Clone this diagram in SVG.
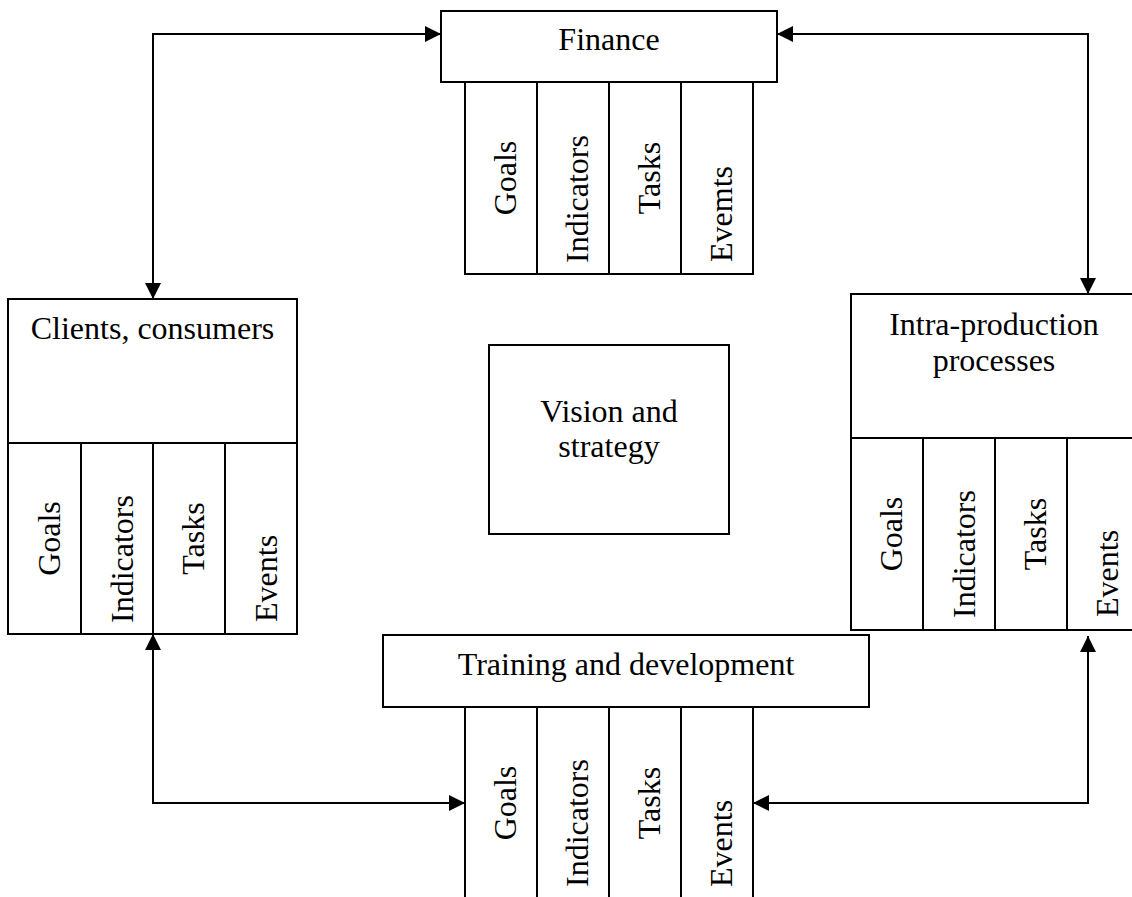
<svg xmlns="http://www.w3.org/2000/svg" width="1132" height="897" viewBox="0 0 1132 897">
<style>
.box{fill:#fff;stroke:#000;stroke-width:2}
.ln{fill:none;stroke:#000;stroke-width:2}
.t{font-family:"Liberation Serif","Times New Roman",serif;font-size:32px;fill:#000}
.m{text-anchor:middle}
.conn{fill:none;stroke:#000;stroke-width:2;marker-start:url(#ah);marker-end:url(#ah)}
</style>
<defs>
<marker id="ah" viewBox="0 0 16 16" refX="16" refY="8" markerWidth="16" markerHeight="16" markerUnits="userSpaceOnUse" orient="auto-start-reverse">
<path d="M0,0 L16,8 L0,16 z" fill="#000"/>
</marker>
</defs>
<rect width="1132" height="897" fill="#fff"/>

<g id="finance">
<rect class="box" x="441" y="11" width="336" height="71"/>
<text class="t m" x="609" y="50">Finance</text>
<rect class="box" x="465" y="82" width="288" height="192"/>
<path class="ln" d="M537,82V274M609,82V274M681,82V274"/>
<text class="t m" transform="translate(516,178) rotate(-90)">Goals</text>
<text class="t" transform="translate(588,263) rotate(-90)">Indicators</text>
<text class="t m" transform="translate(660,178) rotate(-90)">Tasks</text>
<text class="t" transform="translate(732,262) rotate(-90)">Evemts</text>
</g>

<g id="clients">
<rect class="box" x="8" y="299" width="289" height="335"/>
<text class="t m" x="152.5" y="339">Clients, consumers</text>
<path class="ln" d="M8,443H297M81,443V634M153,443V634M225,443V634"/>
<text class="t m" transform="translate(60,538.5) rotate(-90)">Goals</text>
<text class="t" transform="translate(133,623) rotate(-90)">Indicators</text>
<text class="t m" transform="translate(204,538.5) rotate(-90)">Tasks</text>
<text class="t" transform="translate(277,622) rotate(-90)">Events</text>
</g>

<g id="intra">
<rect class="box" x="851" y="294" width="290" height="336"/>
<text class="t m" x="994" y="335">Intra-production</text>
<text class="t m" x="994" y="371">processes</text>
<path class="ln" d="M851,438H1141M923,438V630M995,438V630M1067,438V630"/>
<text class="t m" transform="translate(902,534) rotate(-90)">Goals</text>
<text class="t" transform="translate(975,618) rotate(-90)">Indicators</text>
<text class="t m" transform="translate(1046,534) rotate(-90)">Tasks</text>
<text class="t" transform="translate(1118,617) rotate(-90)">Events</text>
</g>

<g id="vision">
<rect class="box" x="489" y="345" width="240" height="189"/>
<text class="t m" x="609" y="422">Vision and</text>
<text class="t m" x="609" y="457">strategy</text>
</g>

<g id="training">
<rect class="box" x="383" y="635" width="486" height="72"/>
<text class="t m" x="626" y="675">Training and development</text>
<path class="ln" d="M465,707V900M537,707V900M609,707V900M681,707V900M753,707V900"/>
<text class="t m" transform="translate(516,803) rotate(-90)">Goals</text>
<text class="t" transform="translate(588,887) rotate(-90)">Indicators</text>
<text class="t m" transform="translate(660,803) rotate(-90)">Tasks</text>
<text class="t" transform="translate(732,887) rotate(-90)">Events</text>
</g>

<g id="connectors">
<path class="conn" d="M441,34H153V299"/>
<path class="conn" d="M777,34H1088V294"/>
<path class="conn" d="M153,634V803H465"/>
<path class="conn" d="M1088,636V803H753"/>
</g>
</svg>
